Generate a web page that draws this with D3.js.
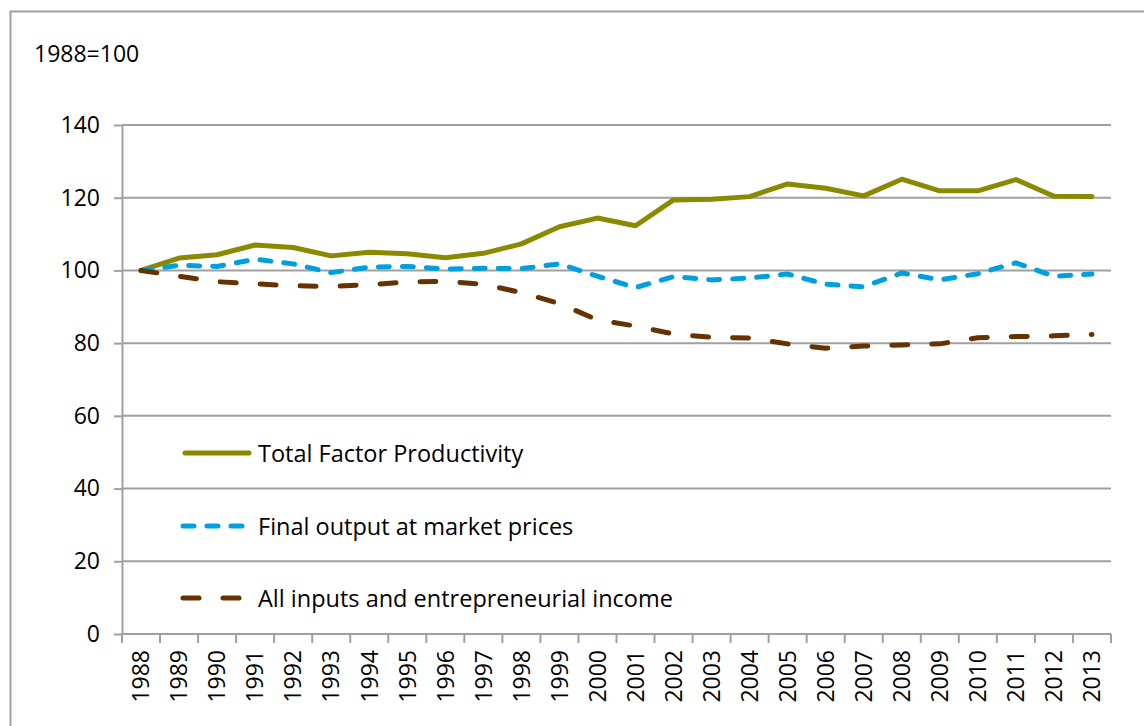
<!DOCTYPE html>
<html>
<head>
<meta charset="utf-8">
<script src="https://cdn.jsdelivr.net/npm/d3@7"></script>
<style>
  body { margin: 0; background: #fff; }
  svg text { font-family: "Open Sans", "Noto Sans", sans-serif; fill: #000; }
</style>
</head>
<body>
<svg id="chart" width="1144" height="726"></svg>
<script>
const years = ["1988", "1989", "1990", "1991", "1992", "1993", "1994", "1995", "1996",
  "1997", "1998", "1999", "2000", "2001", "2002", "2003", "2004", "2005", "2006",
  "2007", "2008", "2009", "2010", "2011", "2012", "2013"];

const tfp = [100, 103.4, 104.3, 107, 106.3, 104, 105, 104.6, 103.5, 104.7, 107.3, 112,
  114.4, 112.3, 119.4, 119.6, 120.3, 123.8, 122.6, 120.5, 125.1, 121.9, 121.9, 125, 120.4, 120.3];

const finalOutput = [100, 101.4, 101.1, 103.1, 101.8, 99.4, 100.9, 101.1, 100.4, 100.6, 100.5,
  101.8, 98.4, 95.3, 98.3, 97.4, 97.9, 99.0, 96.2, 95.5, 99.3, 97.4, 99.1, 102.1, 98.4, 99.0];

const allInputs = [100, 98.4, 96.9, 96.3, 95.8, 95.6, 96.1, 96.8, 97.0, 96.2, 93.9, 90.9,
  86.4, 84.7, 82.5, 81.6, 81.4, 79.8, 78.6, 79.2, 79.5, 79.8, 81.5, 81.8, 82.0, 82.4];

const yTicks = [0, 20, 40, 60, 80, 100, 120, 140];
const seriesNames = ["Total Factor Productivity", "Final output at market prices",
  "All inputs and entrepreneurial income"];

const svg = d3.select("#chart");
const plot = { left: 122, right: 1111, top: 125, bottom: 634 };
const gray = "#a0a0a0";

// outer frame (right and bottom edges run off the picture)
svg.append("rect")
  .attr("x", 10.5).attr("y", 11.5)
  .attr("width", 1300).attr("height", 900)
  .attr("fill", "none").attr("stroke", gray).attr("stroke-width", 2);

svg.append("text")
  .attr("x", 34).attr("y", 62)
  .attr("font-size", 23)
  .text("1988=100");

const x = d3.scaleBand().domain(years).range([plot.left, plot.right]);
const y = d3.scaleLinear().domain([0, 140]).range([plot.bottom, plot.top]);

// gridlines
svg.append("g")
  .selectAll("line")
  .data(yTicks)
  .enter()
  .append("line")
  .attr("x1", plot.left).attr("x2", plot.right)
  .attr("y1", (d) => y(d)).attr("y2", (d) => y(d))
  .attr("stroke", gray).attr("stroke-width", 2);

// y axis
const yAxis = svg.append("g")
  .attr("transform", `translate(${plot.left},0)`)
  .call(d3.axisLeft(y).tickValues(yTicks).tickSize(8).tickSizeOuter(0).tickPadding(14));
yAxis.attr("font-family", null);
yAxis.select(".domain").attr("stroke", gray).attr("stroke-width", 2);
yAxis.selectAll(".tick line").attr("stroke", gray).attr("stroke-width", 2);
yAxis.selectAll("text").attr("font-size", 23).attr("fill", "#000");

// x axis labels
const xAxis = svg.append("g")
  .attr("transform", `translate(0,${plot.bottom})`)
  .call(d3.axisBottom(x).tickSize(0).tickSizeOuter(0));
xAxis.select(".domain").remove();
xAxis.attr("font-family", null);
xAxis.selectAll("text")
  .attr("font-size", 23).attr("fill", "#000")
  .attr("transform", "rotate(-90)")
  .attr("text-anchor", "end")
  .attr("x", -16).attr("y", 0).attr("dy", "0.36em");

// x ticks on category boundaries
svg.append("g")
  .selectAll("line")
  .data(years.map((d) => x(d)).concat([plot.right]))
  .enter()
  .append("line")
  .attr("x1", (d) => d).attr("x2", (d) => d)
  .attr("y1", plot.bottom).attr("y2", plot.bottom + 9)
  .attr("stroke", gray).attr("stroke-width", 2);

const styles = [
  { color: "#8a8a00", dash: null },
  { color: "#00a0e0", dash: "11,13" },
  { color: "#663300", dash: "16,24" },
];
const allSeries = [tfp, finalOutput, allInputs];

const line = d3.line()
  .x((d, i) => x(years[i]) + x.bandwidth() / 2)
  .y((d) => y(d));

allSeries.forEach((values, k) => {
  svg.append("path")
    .datum(values)
    .attr("d", line)
    .attr("fill", "none")
    .attr("stroke", styles[k].color)
    .attr("stroke-width", 5)
    .attr("stroke-linecap", "round")
    .attr("stroke-linejoin", "round")
    .attr("stroke-dasharray", styles[k].dash);
});

// legend
const legendY = [453, 526, 598];
seriesNames.forEach((name, k) => {
  const g = svg.append("g").attr("transform", `translate(0,${legendY[k]})`);
  g.append("line")
    .attr("x1", k === 0 ? 185 : 183).attr("x2", k === 0 ? 249 : 243)
    .attr("y1", 0).attr("y2", 0)
    .attr("stroke", styles[k].color)
    .attr("stroke-width", 5)
    .attr("stroke-linecap", "round")
    .attr("stroke-dasharray", styles[k].dash);
  g.append("text")
    .attr("x", 258).attr("y", 8.5)
    .attr("font-size", 23.5)
    .text(name);
});
</script>
</body>
</html>
